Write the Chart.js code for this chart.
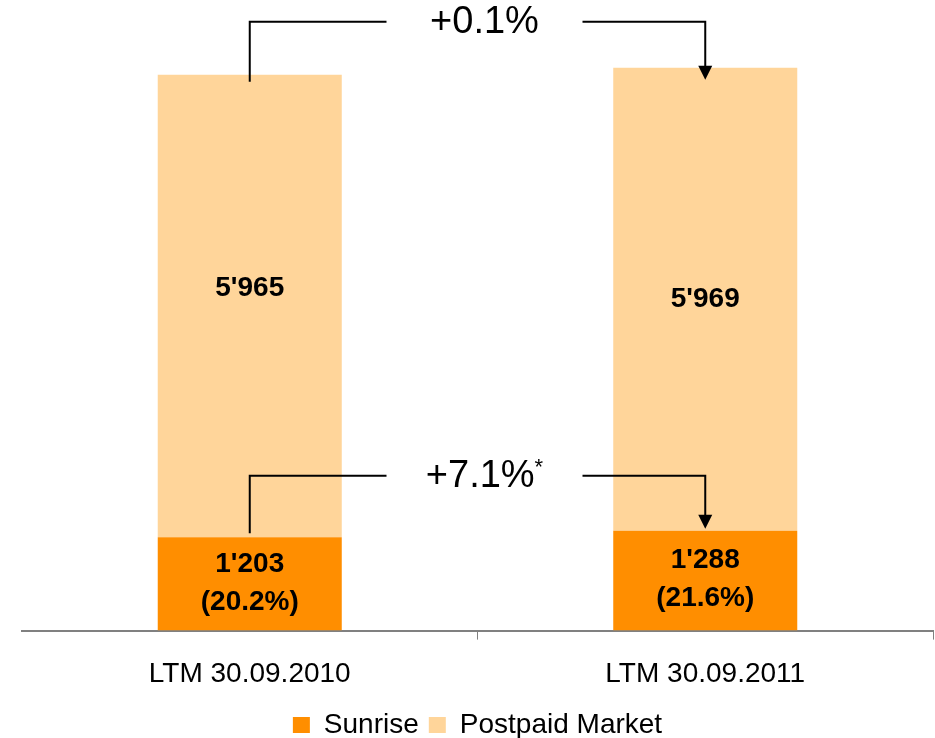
<!DOCTYPE html>
<html>
<head>
<meta charset="utf-8">
<script src="https://cdn.jsdelivr.net/npm/chart.js@4.4.1/dist/chart.umd.min.js"></script>
<style>
  html, body { margin: 0; padding: 0; background: #ffffff; }
  #wrap { width: 935px; height: 738px; position: relative; }
</style>
</head>
<body>
<div id="wrap"><canvas id="chart" width="935" height="738"></canvas></div>
<script>
// Periods shown on the x axis
const periods = ['LTM 30.09.2010', 'LTM 30.09.2011'];
// Sunrise postpaid subscribers (thousands)
const sunrise = [1203, 1288];
// Total postpaid market (thousands), stacked above the Sunrise segment
const postpaidMarket = [5965, 5969];
// Series names
const seriesNames = ['Sunrise', 'Postpaid Market'];

const ORANGE = '#FF8E00';
const LIGHT = '#FFD59A';
const FONT = "'Liberation Sans', Arial, sans-serif";

function fmt(n) {
  return String(n).replace(/\B(?=(\d{3})+(?!\d))/g, "'");
}
function pct(a, b) {
  const v = (a / b - 1) * 100;
  return (v >= 0 ? '+' : '') + v.toFixed(1) + '%';
}

// Value labels inside the bars and growth brackets above them
const annotate = {
  id: 'annotate',
  afterDatasetsDraw(chart) {
    const ctx = chart.ctx;
    const m0 = chart.getDatasetMeta(0);
    const m1 = chart.getDatasetMeta(1);
    ctx.save();
    ctx.fillStyle = '#000';
    ctx.textAlign = 'center';
    ctx.textBaseline = 'middle';
    ctx.font = 'bold 28px ' + FONT;
    const nudge = [-18, 0];
    for (let i = 0; i < periods.length; i++) {
      const s = m0.data[i], p = m1.data[i];
      const pc = (p.y + p.base) / 2 + nudge[i];
      ctx.fillText(fmt(postpaidMarket[i]), p.x, pc);
      const sc = (s.y + s.base) / 2 - 1;
      ctx.fillText(fmt(sunrise[i]), s.x, sc - 19);
      const share = (sunrise[i] / postpaidMarket[i] * 100).toFixed(1);
      ctx.fillText('(' + share + '%)', s.x, sc + 19);
    }

    // growth brackets
    ctx.strokeStyle = '#000';
    ctx.lineWidth = 2;
    function bracket(x1, yTop, yStart, yEnd, text, sup) {
      const x2 = m1.data[1].x;
      const mid = (x1 + x2) / 2 + 7;
      const gap = 98;
      ctx.beginPath();
      ctx.moveTo(x1, yStart);
      ctx.lineTo(x1, yTop);
      ctx.lineTo(mid - gap, yTop);
      ctx.moveTo(mid + gap, yTop);
      ctx.lineTo(x2, yTop);
      ctx.lineTo(x2, yEnd - 12);
      ctx.stroke();
      ctx.beginPath();
      ctx.moveTo(x2 - 7, yEnd - 14);
      ctx.lineTo(x2 + 7, yEnd - 14);
      ctx.lineTo(x2, yEnd);
      ctx.closePath();
      ctx.fill();
      ctx.font = '38px ' + FONT;
      const w = ctx.measureText(text).width;
      let sw = 0;
      if (sup) { ctx.font = '22px ' + FONT; sw = ctx.measureText(sup).width; }
      const start = mid - (w + sw) / 2;
      ctx.font = '38px ' + FONT;
      ctx.textAlign = 'left';
      ctx.fillText(text, start, yTop + 1);
      if (sup) {
        ctx.font = '22px ' + FONT;
        ctx.fillText(sup, start + w, yTop - 8);
      }
      ctx.textAlign = 'center';
    }
    const topA = m1.data[0].y, topB = m1.data[1].y;
    bracket(m1.data[0].x, Math.min(topA, topB) - 46, topA + 7, topB + 12,
            pct(postpaidMarket[1], postpaidMarket[0]), '');
    const sA = m0.data[0].y, sB = m0.data[1].y;
    bracket(m0.data[0].x, Math.min(sA, sB) - 55, sA - 4, sB - 2,
            pct(sunrise[1], sunrise[0]), '*');
    ctx.restore();
  }
};

new Chart(document.getElementById('chart'), {
  type: 'bar',
  data: {
    labels: periods,
    datasets: [
      { label: seriesNames[0], data: sunrise, backgroundColor: ORANGE,
        barPercentage: 0.404, categoryPercentage: 1.0 },
      { label: seriesNames[1], data: postpaidMarket, backgroundColor: LIGHT,
        barPercentage: 0.404, categoryPercentage: 1.0 }
    ]
  },
  options: {
    responsive: false,
    animation: false,
    events: [],
    layout: { padding: { left: 22, right: 2, top: 49, bottom: -11 } },
    plugins: {
      tooltip: { enabled: false },
      legend: {
        position: 'bottom',
        labels: {
          color: '#000',
          font: { family: FONT, size: 28 },
          boxWidth: 17,
          boxHeight: 16,
          padding: 10,
          useBorderRadius: false
        }
      }
    },
    scales: {
      x: {
        stacked: true,
        afterFit(scale) { scale.height -= 8; },
        border: { display: true, color: '#808080', width: 2 },
        grid: {
          display: true,
          drawOnChartArea: false,
          drawTicks: true,
          tickLength: 9,
          color: (c) => (c.index === 0 ? 'rgba(0,0,0,0)' : '#808080'),
          lineWidth: 1
        },
        ticks: {
          color: '#000',
          font: { family: FONT, size: 28, lineHeight: 1.05 },
          padding: 20
        }
      },
      y: {
        stacked: true,
        display: false,
        min: 0,
        max: 7500
      }
    }
  },
  plugins: [annotate]
});
</script>
</body>
</html>
